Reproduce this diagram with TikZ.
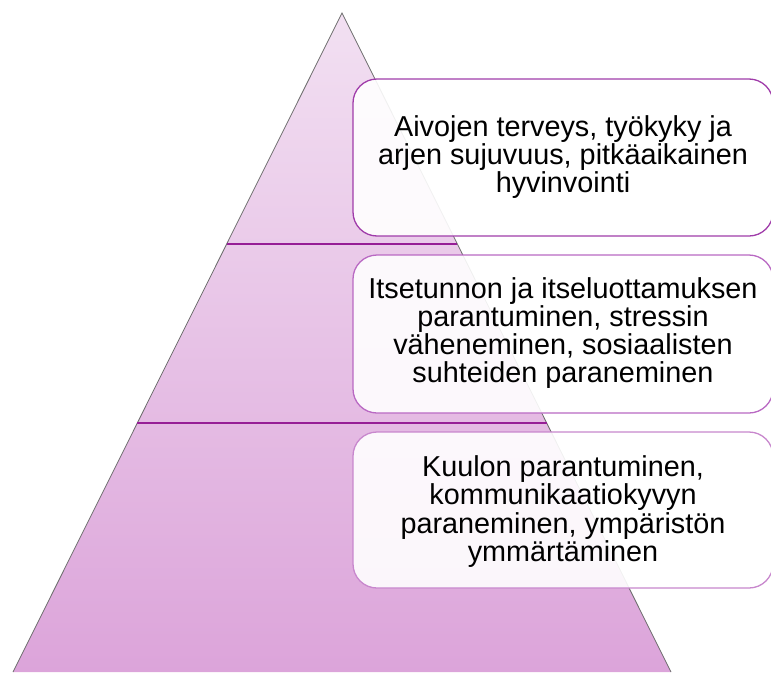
\documentclass[tikz,border=0pt]{standalone}
\usepackage{fontspec}
\setmainfont{Liberation Sans}
\definecolor{pyrtop}{RGB}{242,224,242}
\definecolor{pyrbot}{RGB}{220,164,218}
\definecolor{divcol}{RGB}{150,30,150}
\definecolor{edgecol}{RGB}{110,110,110}
\definecolor{bordA}{RGB}{160,60,170}
\definecolor{bordB}{RGB}{185,105,195}
\definecolor{bordC}{RGB}{200,135,205}
\begin{document}
\begin{tikzpicture}[x=1pt,y=-1pt,
  levelbox/.style={draw, line width=1.3pt, fill=white, fill opacity=0.9, draw opacity=1, rounded corners=24pt},
  boxtext/.style={align=center, text=black, inner sep=0pt, font=\fontsize{28.8}{27.8}\selectfont},
  divider/.style={draw=divcol, line width=1.5pt}]
\useasboundingbox (0,0) rectangle (771,672);
\begin{scope}
\clip (0,0) rectangle (771,672);
\coordinate (apex) at (342,13);
\coordinate (bl) at (13,672);
\coordinate (br) at (671,672);
\shade[top color=pyrtop, bottom color=pyrbot] (apex) -- (bl) -- (br) -- cycle;
\draw[edgecol, line width=0.8pt] (bl) -- (apex) -- (br);
\coordinate (d1l) at (226.7,244);
\coordinate (d1r) at (457.3,244);
\coordinate (d2l) at (137.4,423);
\coordinate (d2r) at (546.6,423);
\draw[divider] (d1l) -- (d1r);
\draw[divider] (d2l) -- (d2r);
\draw[levelbox, draw=bordA] (353,79) rectangle (773,236);
\draw[levelbox, draw=bordB] (353,255) rectangle (773,413);
\draw[levelbox, draw=bordC] (353,432) rectangle (773,588);
\end{scope}
\node[boxtext] (t1) at (563,157) {Aivojen terveys, työkyky ja\\arjen sujuvuus, pitkäaikainen\\hyvinvointi};
\node[boxtext, font=\fontsize{28.8}{28.3}\selectfont] (t2) at (563,333) {Itsetunnon ja itseluottamuksen\\parantuminen, stressin\\väheneminen, sosiaalisten\\suhteiden paraneminen};
\node[boxtext, font=\fontsize{28.8}{28.3}\selectfont] (t3) at (563,511.5) {Kuulon parantuminen,\\kommunikaatiokyvyn\\paraneminen, ympäristön\\ymmärtäminen};
\end{tikzpicture}
\end{document}
